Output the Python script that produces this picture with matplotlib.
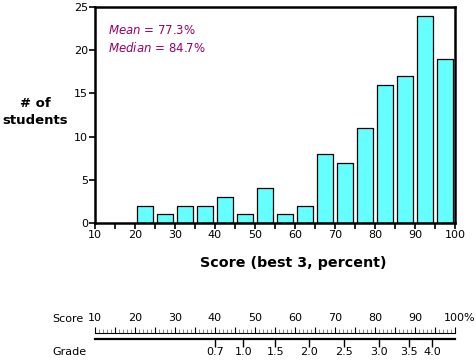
# histogram of best-3 scores with a score/grade ruler underneath
import numpy as np
import matplotlib
matplotlib.use("Agg")
import matplotlib.pyplot as plt
import matplotlib.transforms as mtransforms

# bins of 5 percent, counts
bin_starts = [20, 25, 30, 35, 40, 45, 50, 55, 60, 65, 70, 75, 80, 85, 90, 95]
counts = [2, 1, 2, 2, 3, 1, 4, 1, 2, 8, 7, 11, 16, 17, 24, 19]

mean_score = 77.3
median_score = 84.7

# score -> grade conversion shown on the ruler
grade_labels = ["0.7", "1.0", "1.5", "2.0", "2.5", "3.0", "3.5", "4.0"]
grade_scores = [40, 47.1, 55.1, 63.4, 72.3, 81.0, 88.4, 94.3]

score_ticks = [10, 20, 30, 40, 50, 60, 70, 80, 90, 100]

W, H = 476, 363
fig = plt.figure(figsize=(W / 100, H / 100), dpi=100)
plt.rcParams['font.family'] = 'DejaVu Sans'

# main histogram
ax = fig.add_axes([95 / W, 1 - 223 / H, 360 / W, 216 / H])
ax.bar(np.array(bin_starts) + 2.6, counts, width=4.0, color="#66ffff",
       edgecolor="black", linewidth=0.9)
ax.set_xlim(10, 100)
ax.set_ylim(0, 25)
ax.set_xticks(np.arange(10, 101, 5))
ax.set_xticklabels([str(v) if v % 10 == 0 else "" for v in range(10, 101, 5)])
ax.set_yticks([0, 5, 10, 15, 20, 25])
ax.tick_params(axis="both", direction="out", length=4, width=1.2, labelsize=8,
               pad=1)
for s in ax.spines.values():
    s.set_linewidth(1.8)

ax.text(0.035, 0.89, r"$\mathit{Mean}$ = %.1f%%" % mean_score,
        transform=ax.transAxes, color="#990066", fontsize=8.5, va="center")
ax.text(0.035, 0.81, r"$\mathit{Median}$ = %.1f%%" % median_score,
        transform=ax.transAxes, color="#990066", fontsize=8.5, va="center")

fig.text(35 / W, 1 - 112 / H, "# of\nstudents", ha="center", va="center",
         fontsize=9.5, fontweight="bold", linespacing=1.4)
fig.text(293 / W, 1 - 263 / H, "Score (best 3, percent)", ha="center",
         va="center", fontsize=10.3, fontweight="bold")

# ruler: score on top, grade below
ruler_pos = [95 / W, 1 - 339 / H, 360 / W, 6 / H]
ax_r = fig.add_axes(ruler_pos)
ax_r.set_xlim(10, 100)
ax_r.set_ylim(0, 1)
ax_r.set_yticks([])
ax_r.spines["left"].set_visible(False)
ax_r.spines["right"].set_visible(False)
ax_r.spines["top"].set_linewidth(0.8)
ax_r.spines["bottom"].set_linewidth(1.6)
ax_r.patch.set_visible(False)
ax_r.xaxis.set_ticks_position("top")
ax_r.set_xticks(np.arange(10, 101, 5))
ax_r.set_xticklabels([("100%" if v == 100 else str(v)) if v % 10 == 0 else ""
                      for v in range(10, 101, 5)])
ax_r.set_xticks([v for v in range(10, 101) if v % 5 != 0], minor=True)
ax_r.tick_params(axis="x", which="major", direction="out", length=4, width=0.8,
                 labelsize=8, pad=3, top=True, bottom=False,
                 labeltop=True, labelbottom=False)
ax_r.tick_params(axis="x", which="minor", direction="out", length=3, width=0.6,
                 color="#777777", top=True, bottom=False)
lab = ax_r.get_xticklabels()[-1]
lab.set_transform(lab.get_transform() +
                  mtransforms.ScaledTranslation(5 / 100, 0, fig.dpi_scale_trans))

ax_g = fig.add_axes(ruler_pos, label="grade")
ax_g.set_xlim(10, 100)
ax_g.set_yticks([])
ax_g.patch.set_visible(False)
ax_g.set_xticks(grade_scores)
ax_g.set_xticklabels(grade_labels)
ax_g.tick_params(axis="x", direction="out", length=5.5, width=1.0, labelsize=8,
                 pad=0.5, top=False, bottom=True)
for s in ax_g.spines.values():
    s.set_visible(False)

fig.text(52 / W, 1 - 319 / H, "Score", fontsize=8, va="center")
fig.text(52 / W, 1 - 352 / H, "Grade", fontsize=8, va="center")

fig.savefig("out.png", dpi=100)
